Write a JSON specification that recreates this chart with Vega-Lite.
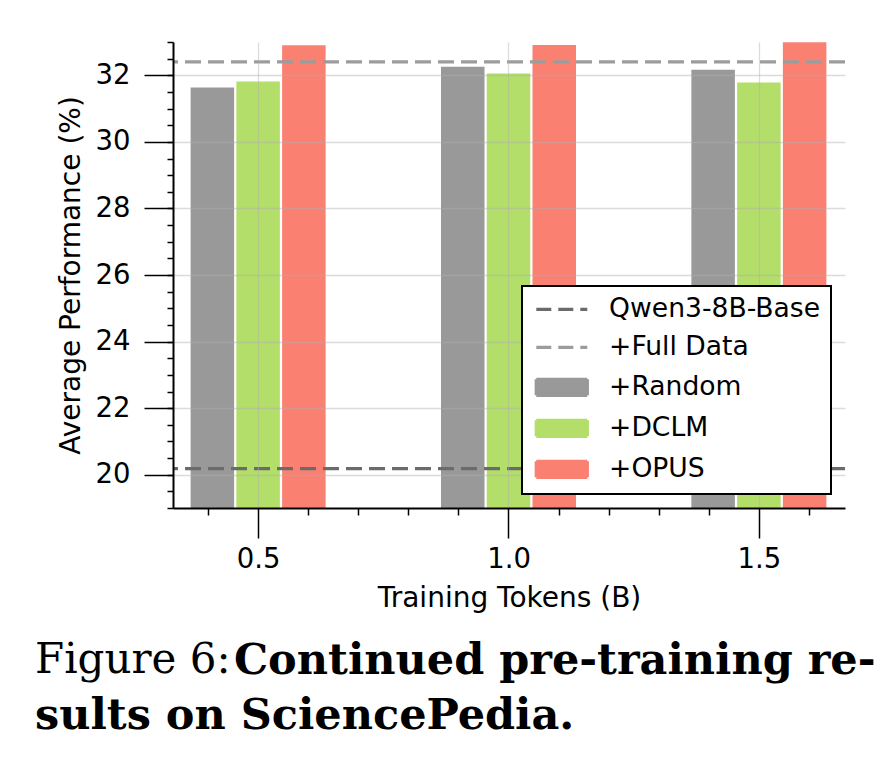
{
  "$schema": "https://vega.github.io/schema/vega-lite/v6.json",
  "width": 672,
  "height": 466,
  "autosize": {"type": "none"},
  "padding": {"left": 173, "top": 42, "right": 51, "bottom": 258},
  "background": "white",
  "datasets": {
    "bars": [
      {"tokens": 0.5, "method": "+Random", "score": 31.63},
      {"tokens": 0.5, "method": "+DCLM", "score": 31.81},
      {"tokens": 0.5, "method": "+OPUS", "score": 32.9},
      {"tokens": 1.0, "method": "+Random", "score": 32.26},
      {"tokens": 1.0, "method": "+DCLM", "score": 32.05},
      {"tokens": 1.0, "method": "+OPUS", "score": 32.91},
      {"tokens": 1.5, "method": "+Random", "score": 32.17},
      {"tokens": 1.5, "method": "+DCLM", "score": 31.78},
      {"tokens": 1.5, "method": "+OPUS", "score": 32.99}
    ],
    "baselines": [
      {"method": "Qwen3-8B-Base", "score": 20.18},
      {"method": "+Full Data", "score": 32.4}
    ]
  },
  "title": {
    "text": "Figure 6:",
    "subtitle": ["\u200b\u00a0\u00a0\u00a0\u00a0\u00a0\u00a0\u00a0\u00a0\u00a0\u00a0\u00a0\u00a0\u00a0\u200aContinued pre-training re-", "sults on SciencePedia."],
    "orient": "bottom",
    "anchor": "start",
    "frame": "group",
    "dx": -138,
    "offset": 27,
    "font": "DejaVu Serif",
    "fontSize": 42,
    "fontWeight": "normal",
    "color": "black",
    "subtitleFont": "DejaVu Serif",
    "subtitleFontSize": 43,
    "subtitleFontWeight": "bold",
    "subtitleColor": "black",
    "subtitleLineHeight": 55,
    "subtitlePadding": -42
  },
  "config": {
    "view": {"stroke": null},
    "axis": {
      "labelFont": "DejaVu Sans",
      "titleFont": "DejaVu Sans",
      "labelColor": "black",
      "titleColor": "black",
      "titleFontWeight": "normal",
      "domainColor": "black",
      "tickColor": "black",
      "gridColor": "#b0b0b0",
      "gridOpacity": 0.45,
      "gridWidth": 1.3
    }
  },
  "resolve": {"axis": {"x": "independent", "y": "independent"}},
  "layer": [
    {
      "data": {"name": "bars"},
      "transform": [{"filter": "datum.method === '+Random'"}],
      "mark": {"type": "bar", "width": 43.5, "xOffset": -45.75, "clip": true},
      "encoding": {
        "x": {
          "field": "tokens", "type": "quantitative",
          "scale": {"domain": [0.34, 1.662], "nice": false, "zero": false},
          "axis": {
            "orient": "bottom", "values": [0.5, 1.0, 1.5], "format": ".1f",
            "title": "Training Tokens (B)", "tickSize": 30, "tickWidth": 1.5,
            "labelPadding": 7, "titlePadding": 12, "labelFontSize": 27.5,
            "titleFontSize": 28, "domainWidth": 2, "grid": true, "zindex": 1
          }
        },
        "y": {
          "field": "score", "type": "quantitative",
          "scale": {"domain": [19, 33], "nice": false, "zero": false},
          "axis": {
            "orient": "left", "values": [20, 22, 24, 26, 28, 30, 32],
            "title": "Average Performance (%)", "tickSize": 29, "tickWidth": 1.5,
            "labelPadding": 14, "titlePadding": 10, "labelFontSize": 27.5,
            "titleFontSize": 28, "domainWidth": 2, "grid": true, "zindex": 1
          }
        },
        "color": {
          "field": "method", "type": "nominal",
          "scale": {
            "domain": ["Qwen3-8B-Base", "+Full Data", "+Random", "+DCLM", "+OPUS"],
            "range": ["#6b6b6b", "#9c9c9c", "#999999", "#b3de69", "#fa8072"]
          },
          "legend": {
            "title": null, "orient": "bottom-right", "offset": 14, "padding": 10,
            "strokeColor": "black", "fillColor": "white", "cornerRadius": 0,
            "labelFont": "DejaVu Sans", "labelFontSize": 26.6, "labelColor": "black",
            "labelLimit": 400, "labelOffset": 34, "symbolOffset": 16.5,
            "symbolSize": 400, "rowPadding": 11, "zindex": 2,
            "encode": {
              "legend": {"update": {"strokeWidth": {"value": 2}}},
              "symbols": {
                "update": {
                  "shape": {"signal": "indexof(['Qwen3-8B-Base','+Full Data'], datum.value) >= 0 ? 'M-2.55,0H2.55' : 'M-2.55,-0.8H2.55V0.8H-2.55Z'"},
                  "fill": {"signal": "indexof(['Qwen3-8B-Base','+Full Data'], datum.value) >= 0 ? 'transparent' : scale('color', datum.value)"},
                  "stroke": {"signal": "indexof(['Qwen3-8B-Base','+Full Data'], datum.value) >= 0 ? scale('color', datum.value) : 'transparent'"},
                  "strokeWidth": {"value": 3.3},
                  "strokeDash": {"signal": "indexof(['Qwen3-8B-Base','+Full Data'], datum.value) >= 0 ? [15, 7] : [1, 0]"},
                  "size": {"value": 400},
                  "opacity": {"value": 1},
                  "fillOpacity": {"value": 1},
                  "strokeOpacity": {"value": 1}
                }
              }
            }
          }
        }
      }
    },
    {
      "data": {"name": "bars"},
      "transform": [{"filter": "datum.method === '+DCLM'"}],
      "mark": {"type": "bar", "width": 43.5, "xOffset": 0, "clip": true},
      "encoding": {
        "x": {
          "field": "tokens", "type": "quantitative",
          "axis": {
            "orient": "bottom", "values": [0.4, 0.6, 0.7, 0.8, 0.9, 1.1, 1.2, 1.3, 1.4, 1.6],
            "labels": false, "domain": false, "grid": false, "title": null,
            "tickSize": 7, "tickWidth": 1.5, "zindex": 1
          }
        },
        "y": {
          "field": "score", "type": "quantitative",
          "axis": {
            "orient": "left",
            "values": [19, 19.5, 20, 20.5, 21, 21.5, 22, 22.5, 23, 23.5, 24, 24.5, 25, 25.5, 26, 26.5, 27, 27.5, 28, 28.5, 29, 29.5, 30, 30.5, 31, 31.5, 32, 32.5, 33],
            "labels": false, "domain": false, "grid": false, "title": null,
            "tickSize": 6, "tickWidth": 1.5, "zindex": 1
          }
        },
        "color": {"field": "method", "type": "nominal", "legend": null}
      }
    },
    {
      "data": {"name": "bars"},
      "transform": [{"filter": "datum.method === '+OPUS'"}],
      "mark": {"type": "bar", "width": 43.5, "xOffset": 45.75, "clip": true},
      "encoding": {
        "x": {"field": "tokens", "type": "quantitative", "axis": null},
        "y": {"field": "score", "type": "quantitative", "axis": null},
        "color": {"field": "method", "type": "nominal", "legend": null}
      }
    },
    {
      "data": {"name": "baselines"},
      "mark": {"type": "rule", "strokeDash": [16, 7], "strokeWidth": 3.3},
      "encoding": {
        "y": {"field": "score", "type": "quantitative", "axis": null},
        "color": {"field": "method", "type": "nominal", "legend": null}
      }
    }
  ]
}
